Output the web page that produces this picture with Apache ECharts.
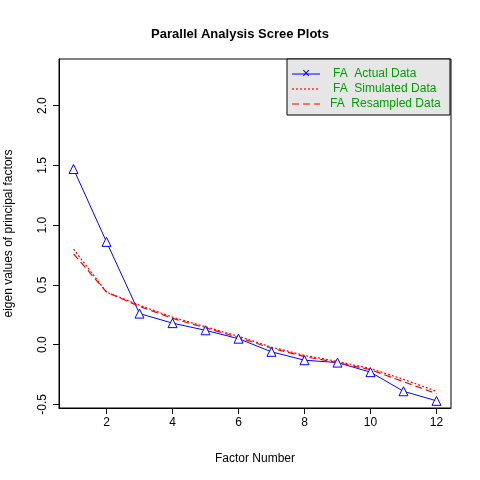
<!DOCTYPE html>
<html><head><meta charset="utf-8">
<script src="https://cdn.jsdelivr.net/npm/echarts@6/dist/echarts.min.js"></script>
<style>html,body{margin:0;padding:0;background:#fff}#c{width:480px;height:480px}</style>
</head><body><div id="c"></div>
<script>
const factors=[1,2,3,4,5,6,7,8,9,10,11,12];
const actual=[1.47,0.86,0.26,0.18,0.12,0.05,-0.06,-0.13,-0.15,-0.23,-0.39,-0.47];
const simulated=[0.80,0.44,0.33,0.23,0.15,0.07,-0.02,-0.09,-0.14,-0.20,-0.29,-0.39];
const resampled=[0.76,0.44,0.32,0.22,0.14,0.06,-0.03,-0.10,-0.15,-0.21,-0.31,-0.41];
const xTicks=[2,4,6,8,10,12];
const yTicks=[-0.5,0,0.5,1,1.5,2];
const pair=a=>a.map((v,i)=>[factors[i],v]);
const ch=echarts.init(document.getElementById('c'));
const ff='Liberation Sans, Arial, sans-serif';
ch.setOption({
 animation:false,
 title:{text:'Parallel Analysis Scree Plots',left:'center',top:23,textStyle:{fontFamily:ff,fontSize:13,fontWeight:'bold',color:'#000'}},
 grid:{left:59,right:29,top:59,bottom:72,containLabel:false,outerBoundsMode:'none',show:true,borderColor:'#000',borderWidth:1},
 xAxis:{type:'value',min:0.56,max:12.44,name:'Factor Number',nameLocation:'middle',nameGap:45,
  nameTextStyle:{fontFamily:ff,fontSize:12,color:'#000'},
  axisLine:{onZero:false,lineStyle:{color:'#000'}},splitLine:{show:false},
  axisTick:{customValues:xTicks,length:6,lineStyle:{color:'#000'}},
  axisLabel:{customValues:xTicks,fontFamily:ff,fontSize:12,color:'#000',margin:9}},
 yAxis:{type:'value',min:-0.53,max:2.39,name:'eigen values of principal factors',nameLocation:'middle',nameGap:44,
  nameTextStyle:{fontFamily:ff,fontSize:12,color:'#000'},
  axisLine:{show:true,onZero:false,lineStyle:{color:'#000'}},splitLine:{show:false},
  axisTick:{show:true,customValues:yTicks,length:6,lineStyle:{color:'#000'}},
  axisLabel:{customValues:yTicks,rotate:90,fontFamily:ff,fontSize:12,color:'#000',margin:10,formatter:v=>v.toFixed(1)}},
 series:[
  {type:'line',data:pair(actual),symbol:'triangle',symbolSize:9,lineStyle:{color:'#0000ff',width:1},itemStyle:{color:'#fff',borderColor:'#0000ff',borderWidth:1}},
  {type:'line',data:pair(simulated),symbol:'none',lineStyle:{color:'#ff0000',width:1.2,type:[2,2]}},
  {type:'line',data:pair(resampled),symbol:'none',lineStyle:{color:'#ff0000',width:1.2,type:[7,4]}}
 ],
 graphic:[
  {type:'rect',shape:{x:287,y:59,width:163,height:56},style:{fill:'#e6e6e6',stroke:'#000',lineWidth:1}},
  {type:'line',shape:{x1:292,y1:74,x2:320,y2:74},style:{stroke:'#0000ff',lineWidth:1}},
  {type:'text',x:306,y:74,style:{text:'×',fill:'#0000ff',fontSize:14,align:'center',verticalAlign:'middle',fontFamily:ff}},
  {type:'line',shape:{x1:292,y1:89,x2:320,y2:89},style:{stroke:'#ff0000',lineWidth:1.2,lineDash:[2,2]}},
  {type:'line',shape:{x1:292,y1:104,x2:320,y2:104},style:{stroke:'#ff0000',lineWidth:1.2,lineDash:[7,4]}},
  {type:'text',x:333,y:74,style:{text:'FA  Actual Data',fill:'#00a000',fontSize:12,verticalAlign:'middle',fontFamily:ff}},
  {type:'text',x:333,y:89,style:{text:'FA  Simulated Data',fill:'#00a000',fontSize:12,verticalAlign:'middle',fontFamily:ff}},
  {type:'text',x:330,y:104,style:{text:'FA  Resampled Data',fill:'#00a000',fontSize:12,verticalAlign:'middle',fontFamily:ff}}
 ]
});
</script></body></html>
